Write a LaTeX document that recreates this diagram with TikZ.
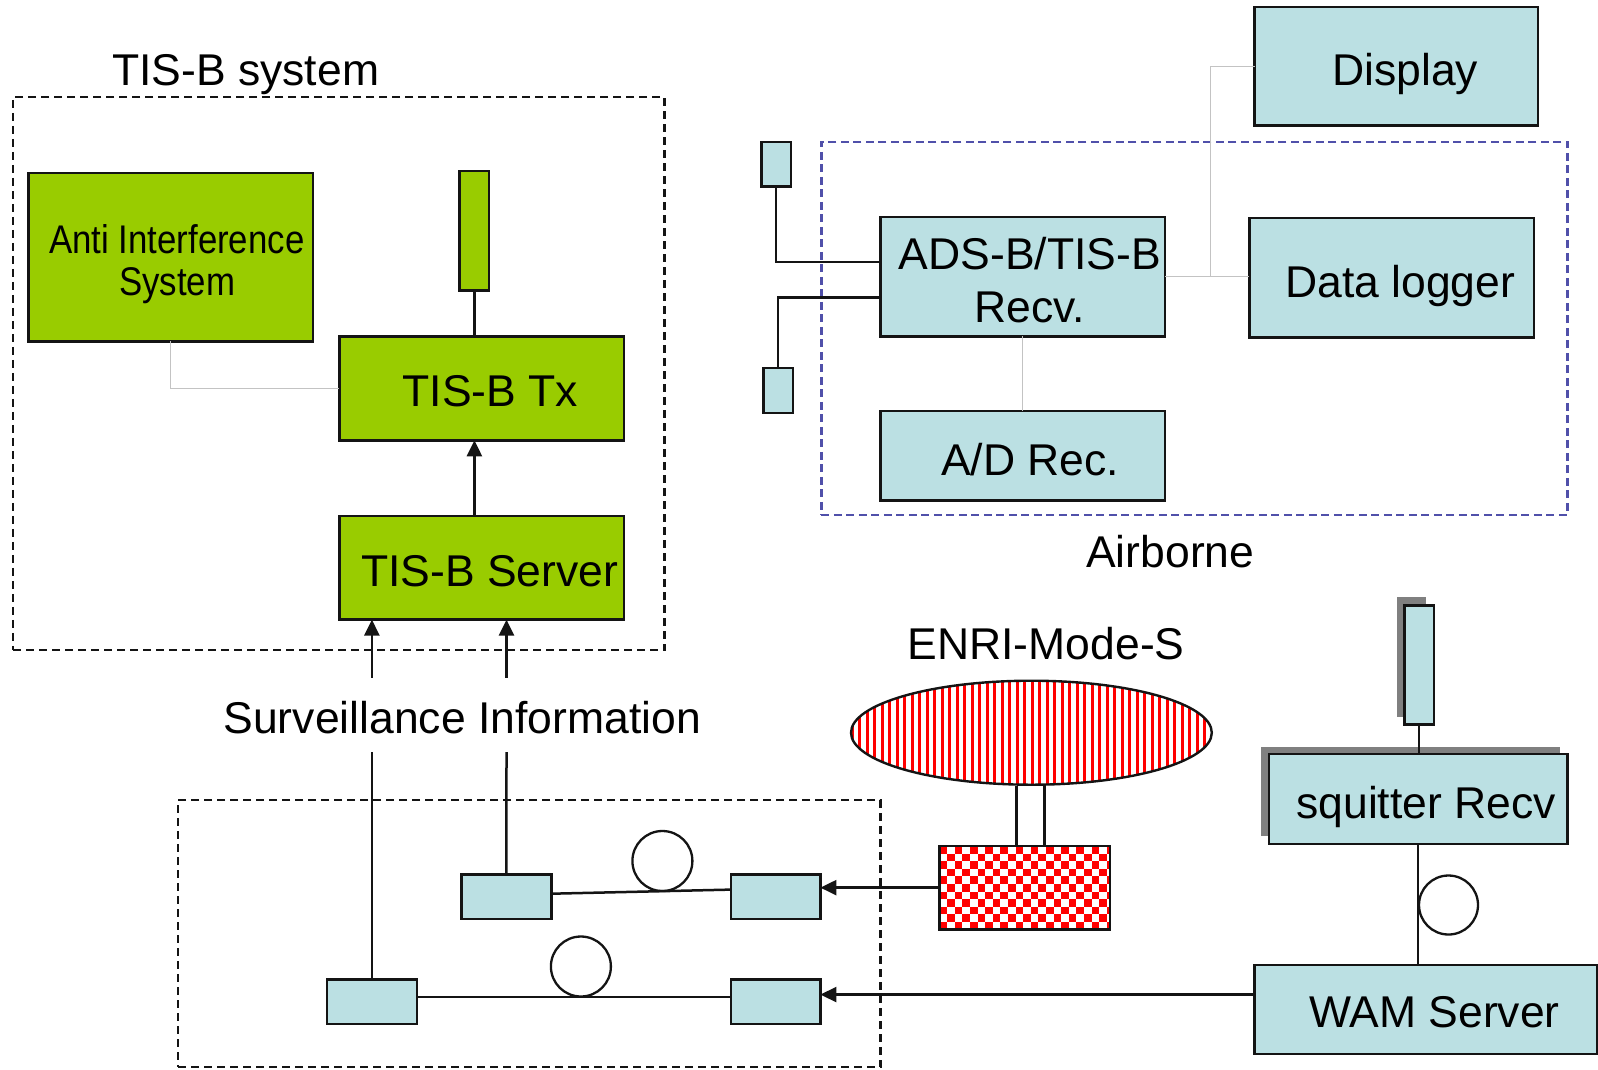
\documentclass[tikz,border=0pt]{standalone}
\usepackage{graphicx}
\usepackage{fontspec}
\setmainfont{Liberation Sans}
\usetikzlibrary{arrows.meta,shapes.geometric}

\definecolor{limefill}{RGB}{153,204,0}
\definecolor{paleblue}{RGB}{187,224,227}
\definecolor{softgray}{RGB}{195,195,195}
\definecolor{framepurple}{RGB}{80,80,170}
\definecolor{shadowgray}{RGB}{128,128,128}
\definecolor{inkblack}{RGB}{20,20,20}

\begin{document}
\begin{tikzpicture}[x=1pt, y=-1pt,
  box/.style={rectangle, draw=inkblack, line width=2.4pt, inner sep=0pt, outer sep=0pt, anchor=north west},
  gbox/.style={box, fill=limefill},
  bbox/.style={box, fill=paleblue},
  frame/.style={rectangle, draw=inkblack, line width=2.2pt, dash pattern=on 8pt off 5pt, inner sep=0pt, outer sep=0pt, anchor=north west},
  wire/.style={line width=2.5pt, draw=inkblack},
  soft/.style={line width=1.5pt, draw=softgray},
  flow/.style={wire, -{Triangle[length=16pt, width=15pt]}},
  loop/.style={circle, draw=inkblack, line width=2.3pt, minimum size=60pt, inner sep=0pt},
  lbl/.style={font=\fontsize{44.5}{53}\selectfont, inner sep=0pt, anchor=base},
  smalllbl/.style={font=\fontsize{40}{42}\selectfont, inner sep=0pt, anchor=base}]

\useasboundingbox[fill=white] (0,0) rectangle (1598,1069);

% ---------------- TIS-B ground system ----------------
\node[frame, minimum width=651.3pt, minimum height=553.4pt] (tisframe) at (13.2,96.8) {};
\node[lbl] (tistitle) at (245.6,85) {TIS-B system};

\node[gbox, minimum width=284.4pt, minimum height=168.2pt] (anti) at (28.5,173.2) {};
\node[smalllbl] (antitxt1) at (176.8,253.8) {\scalebox{0.87}[1]{Anti Interference}};
\node[smalllbl] (antitxt2) at (177.3,295.6) {\scalebox{0.87}[1]{System}};

\node[gbox, minimum width=29.6pt, minimum height=119.2pt] (gant) at (459.6,171.2) {};
\node[gbox, minimum width=284.3pt, minimum height=104pt] (tx) at (339.4,336.3) {};
\node[lbl] (txtxt) at (490.2,406.6) {TIS-B Tx};
\node[gbox, minimum width=284.3pt, minimum height=103.9pt] (server) at (339.4,515.7) {};
\node[lbl] (servertxt) at (489.7,586.5) {TIS-B Server};

\draw[wire] (gant.south) -- (gant.south |- tx.north);
\draw[flow] (gant.south |- server.north) -- (gant.south |- tx.south);
\draw[soft] (anti.south) |- (tx.west);

% ---------------- surveillance inputs ----------------
\node[lbl] (survtxt) at (462.2,733.2) {Surveillance Information};
\node[frame, minimum width=702.5pt, minimum height=267pt] (netframe) at (178,800) {};

\node[bbox, minimum width=89.7pt, minimum height=44.8pt] (mid) at (461.6,874.4) {};
\node[bbox, minimum width=89.7pt, minimum height=44.8pt] (rone) at (730.7,874.4) {};
\node[bbox, minimum width=89.8pt, minimum height=44.8pt] (ll) at (327,979.4) {};
\node[bbox, minimum width=89.7pt, minimum height=44.8pt] (rtwo) at (730.7,979.4) {};

\coordinate (sonelow) at (371.9,752);
\coordinate (stwolow) at (506.5,752);
\coordinate (soneup) at (371.9,677.7);
\coordinate (stwoup) at (506.5,677.7);
\draw[wire] (ll.north) -- (sonelow);
\draw[wire] (mid.north) -- (stwolow);
\draw[flow] (soneup) -- (soneup |- server.south);
\draw[flow] (stwoup) -- (stwoup |- server.south);

\draw[wire] ([yshift=3.1pt]mid.east) -- ([yshift=7.2pt]rone.west);
\draw[wire] ([yshift=5pt]ll.east) -- ([yshift=5pt]rtwo.west);
\node[loop] (loopa) at (662.4,861) {};
\node[loop] (loopb) at (580.9,966.5) {};

% ---------------- ENRI Mode-S ----------------
\node[lbl] (enritxt) at (1046.1,659.9) {ENRI-Mode-S};
\begin{scope}
  \clip (1031.4,732.7) ellipse [x radius=180.4pt, y radius=52pt];
  \fill[white] (850,680) rectangle (1213,786);
  \foreach \k in {0,...,48} \draw[red, line width=3pt] ({852+\k*7.5},670) -- ({852+\k*7.5},800);
\end{scope}
\node[ellipse, draw=inkblack, line width=2.4pt, minimum width=360.8pt, minimum height=104pt, inner sep=0pt] (enri) at (1031.4,732.7) {};

\node[box, fill=white, minimum width=170.2pt, minimum height=83.5pt] (checker) at (939.6,845.9) {};
\begin{scope}
  \clip (checker.north west) rectangle (checker.south east);
  \foreach \r in {0,...,11} {
    \foreach \c in {0,...,11} {
      \fill[red] ({939.6+(2*\c+mod(\r,2))*7.6},{845.9+\r*7.6}) rectangle ++(7.6,7.6);
    }
  }
\end{scope}
\draw[line width=2.4pt, inkblack] (checker.north west) rectangle (checker.south east);

\draw[wire] ([xshift=-15pt]enri.south) -- ([xshift=-15pt]enri.south |- checker.north);
\draw[wire] ([xshift=13pt]enri.south) -- ([xshift=13pt]enri.south |- checker.north);
\draw[flow] (checker.west) -- (checker.west -| rone.east);

% ---------------- WAM ----------------
\fill[shadowgray] (1396.8,597.3) rectangle (1426.4,716.6);
\node[bbox, minimum width=29.6pt, minimum height=119.3pt] (ant) at (1404.3,605.3) {};
\fill[shadowgray] (1261,746.5) rectangle (1559.6,836.3);
\node[bbox, minimum width=298.6pt, minimum height=89.8pt] (sq) at (1268.8,754) {};
\node[lbl] (sqtxt) at (1426.2,818.8) {squitter Recv};
\node[bbox, minimum width=343pt, minimum height=88.7pt] (wam) at (1254.5,965) {};
\node[lbl] (wamtxt) at (1434.4,1027.7) {WAM Server};

\draw[wire] (ant.south) -- (ant.south |- sq.north);
\draw[wire] (sq.south) -- (sq.south |- wam.north);
\node[loop, minimum size=59pt] (loopc) at (1448.5,905) {};
\draw[flow] ([yshift=14.8pt]wam.west) -- ([yshift=14.8pt]wam.west -| rtwo.east);

% ---------------- Airborne ----------------
\node[frame, draw=framepurple, dash pattern=on 8pt off 4.5pt, minimum width=746pt, minimum height=372.9pt] (airframe) at (821.4,141.7) {};
\node[lbl] (airtxt) at (1170.4,567) {Airborne};

\node[bbox, minimum width=283.3pt, minimum height=118.3pt] (disp) at (1254.5,7.1) {};
\node[lbl] (disptxt) at (1405.3,85) {Display};
\node[bbox, minimum width=284.3pt, minimum height=119.3pt] (logger) at (1249.4,218) {};
\node[lbl] (loggertxt) at (1400.2,297) {Data logger};
\node[bbox, minimum width=284.3pt, minimum height=119.3pt] (ads) at (880.5,217) {};
\node[lbl] (adstxt1) at (1029.8,269.5) {ADS-B/TIS-B};
\node[lbl] (adstxt2) at (1029.8,322.5) {Recv.};
\node[bbox, minimum width=284.3pt, minimum height=89.7pt] (adrec) at (880.5,410.7) {};
\node[lbl] (adrectxt) at (1030.3,475.4) {A/D Rec.};
\node[bbox, minimum width=29.5pt, minimum height=44.8pt] (saone) at (761.3,141.7) {};
\node[bbox, minimum width=29.5pt, minimum height=44.8pt] (satwo) at (763.3,367.9) {};

\draw[wire] (saone.south) |- ([yshift=14.75pt]ads.west);
\draw[wire] ([yshift=-20.95pt]ads.west) -| (satwo.north);
\draw[soft] (ads.south) -- (adrec.north);
\draw[soft] (ads.east) -- (ads.east -| logger.west);
\coordinate (tap) at (1210.7,276.65);
\draw[soft] (disp.west) -| (tap);

\end{tikzpicture}
\end{document}
